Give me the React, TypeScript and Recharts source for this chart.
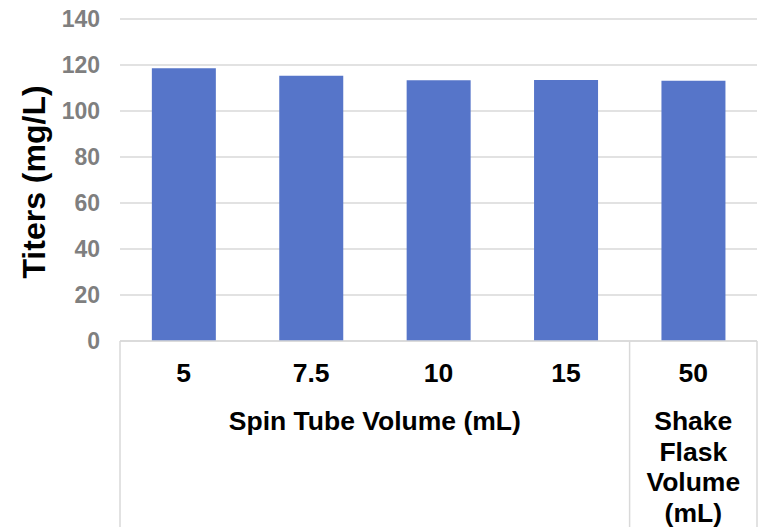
import React from "react";
import {
  BarChart,
  Bar,
  XAxis,
  YAxis,
  CartesianGrid,
} from "recharts";

const volumes = ["5", "7.5", "10", "15", "50"];
const titers = [118.6, 115.3, 113.4, 113.5, 113.1];

// two category groups along the x axis, each spanning a run of volumes
const groupLabels = [["Spin Tube Volume (mL)"], ["Shake", "Flask", "Volume", "(mL)"]];
const groupSizes = [4, 1];

const yTicks = [0, 20, 40, 60, 80, 100, 120, 140];

const data = volumes.map((v, i) => ({ volume: v, titer: titers[i] }));

const FONT = "'Liberation Sans', Arial, Helvetica, sans-serif";
const GRID = "#d9d9d9";
const BAR = "#5675c9";

// first index of every group
const groupStarts = groupSizes.map((_, g) =>
  groupSizes.slice(0, g).reduce((a, b) => a + b, 0)
);

function CategoryTick(props: any) {
  const { x, y, payload } = props;
  const index = props.index ?? payload.index ?? 0;
  const half = payload.offset || (761 - 120 - 4) / volumes.length / 2;
  const g = groupStarts.indexOf(index);
  const lineBottom = y + 200;

  return (
    <g>
      <text
        x={x}
        y={y + 41}
        textAnchor="middle"
        fontFamily={FONT}
        fontWeight="bold"
        fontSize={26.5}
        fill="#000"
      >
        {payload.value}
      </text>
      {g >= 0 && (
        <>
          <line x1={x - half} x2={x - half} y1={y} y2={lineBottom} stroke={GRID} strokeWidth={1.5} />
          {groupLabels[g].map((line, k) => (
            <text
              key={k}
              x={x + (groupSizes[g] - 1) * half}
              y={y + 89 + k * 30.5}
              textAnchor="middle"
              fontFamily={FONT}
              fontWeight="bold"
              fontSize={26.5}
              fill="#000"
            >
              {line}
            </text>
          ))}
        </>
      )}
      {index === volumes.length - 1 && (
        <line x1={x + half} x2={x + half} y1={y} y2={lineBottom} stroke={GRID} strokeWidth={1.5} />
      )}
    </g>
  );
}

function YTitle(props: any) {
  const vb = props.viewBox || { y: 19, height: 322 };
  const cx = 45;
  const cy = vb.y + vb.height / 2 + 2;
  return (
    <text
      x={cx}
      y={cy}
      transform={`rotate(-90, ${cx}, ${cy})`}
      textAnchor="middle"
      fontFamily={FONT}
      fontWeight="bold"
      fontSize={32}
      fill="#000"
    >
      Titers (mg/L)
    </text>
  );
}

export default function App() {
  return (
    <div style={{ position: "absolute", left: 0, top: 0, background: "#fff" }}>
      <BarChart
        width={761}
        height={527}
        data={data}
        margin={{ top: 19, right: 4, bottom: 0, left: 0 }}
        barCategoryGap="25%"
      >
        <CartesianGrid vertical={false} stroke={GRID} strokeWidth={1.5} />
        <XAxis
          dataKey="volume"
          height={186}
          interval={0}
          tickLine={false}
          tickSize={0}
          tickMargin={0}
          axisLine={{ stroke: GRID, strokeWidth: 1.5 }}
          tick={<CategoryTick />}
        />
        <YAxis
          width={120}
          domain={[0, 140]}
          ticks={yTicks}
          axisLine={false}
          tickLine={false}
          tickSize={0}
          tickMargin={20}
          tick={{ fill: "#7f7f7f", fontFamily: FONT, fontWeight: "bold", fontSize: 23 }}
          label={<YTitle />}
        />
        <Bar dataKey="titer" fill={BAR} isAnimationActive={false} />
      </BarChart>
    </div>
  );
}
